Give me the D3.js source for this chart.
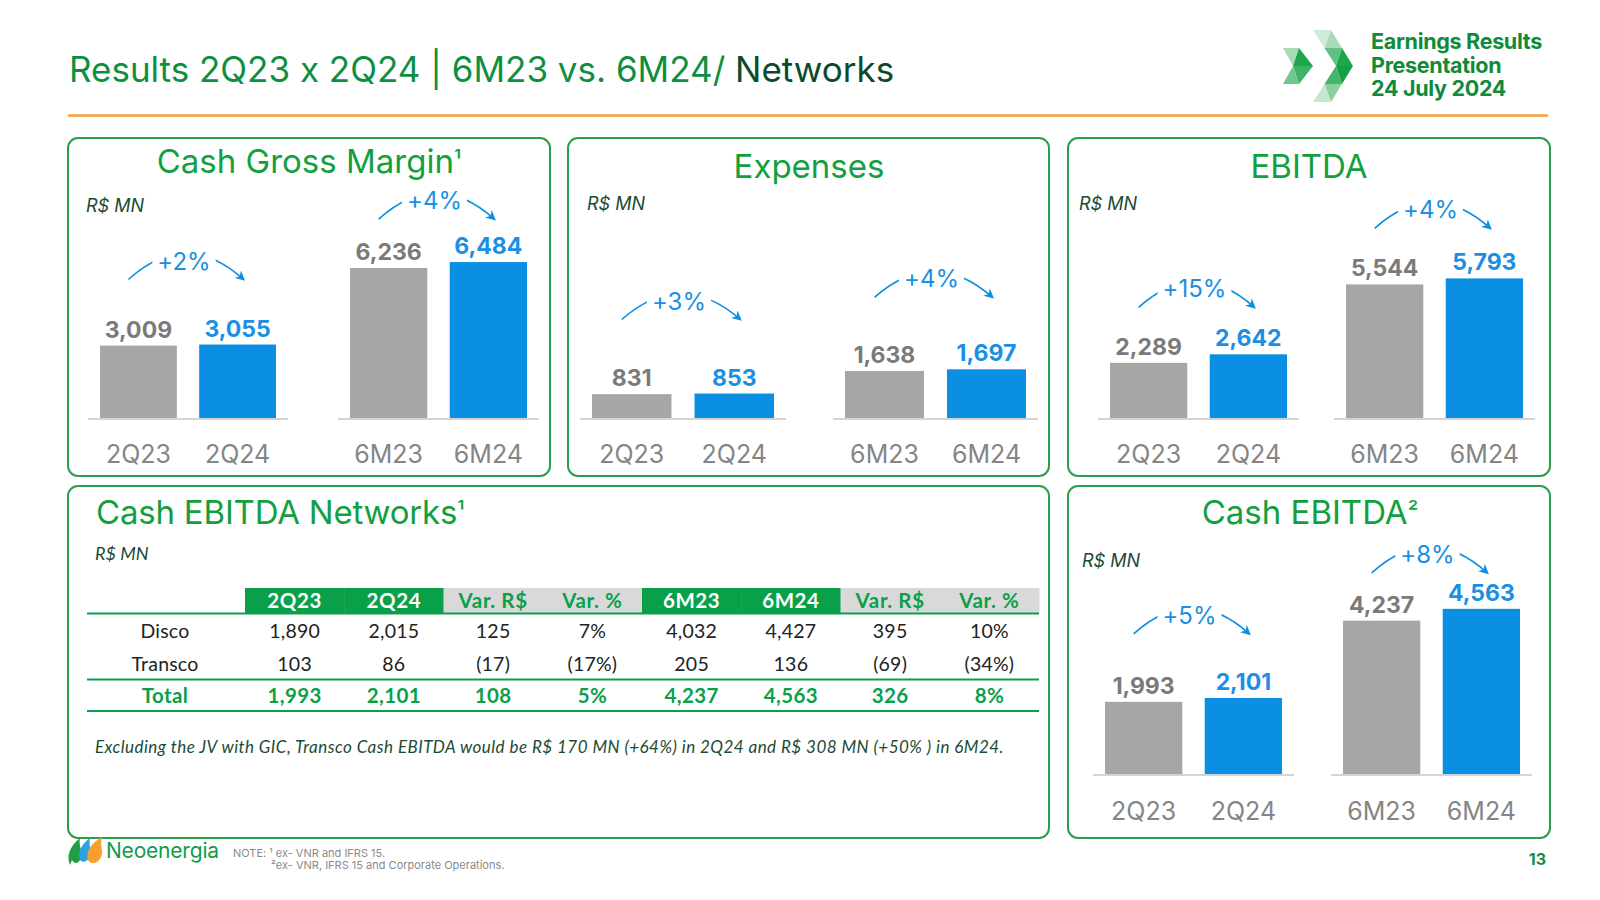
<!DOCTYPE html>
<html><head><meta charset="utf-8">
<script src="https://cdn.jsdelivr.net/npm/d3@7"></script>
<style>body{margin:0;background:#fff} svg{display:block;font-feature-settings:"calt" 0}</style>
</head><body><svg id="c" width="1600" height="900"></svg>
<script>
// ---------- DATA ----------
const periods = ["2Q23", "2Q24", "6M23", "6M24"];
const cashGrossMargin = [3009, 3055, 6236, 6484];
const expenses = [831, 853, 1638, 1697];
const ebitda = [2289, 2642, 5544, 5793];
const cashEbitda = [1993, 2101, 4237, 4563];
const cashGrossMarginGrowth = ["+2%", "+4%"];
const expensesGrowth = ["+3%", "+4%"];
const ebitdaGrowth = ["+15%", "+4%"];
const cashEbitdaGrowth = ["+5%", "+8%"];

const tableColumns = ["2Q23", "2Q24", "Var. R$", "Var. %", "6M23", "6M24", "Var. R$", "Var. %"];
const tableRowLabels = ["Disco", "Transco", "Total"];
const discoRow = ["1,890", "2,015", "125", "7%", "4,032", "4,427", "395", "10%"];
const transcoRow = ["103", "86", "(17)", "(17%)", "205", "136", "(69)", "(34%)"];
const totalRow = ["1,993", "2,101", "108", "5%", "4,237", "4,563", "326", "8%"];

// ---------- STYLE / LAYOUT ----------
const C = {
  title: "#0e8f3f", titleDark: "#0c4a2c", panelTitle: "#12a03f", border: "#2a9f4b",
  gray: "#a6a6a6", blue: "#0b8fe3", grayLbl: "#7a7a7a", blueLbl: "#1a8fe3",
  cat: "#858585", axis: "#d4d4d4", unit: "#1b4b34", orange: "#f6a13a",
  tblGreen: "#0aa04a", tblGray: "#d9d9d9", rowText: "#222"
};
const F = "Inter, 'Noto Sans', sans-serif";
const FT = "Lato, 'Noto Sans', sans-serif";

const panels = [
  { title: "Cash Gross Margin", sup: "¹", values: cashGrossMargin, growth: cashGrossMarginGrowth,
    box: [68, 138, 482, 338], titleX: 309, titleY: 173, unitX: 86, unitY: 212, base: 418,
    groups: [[100, 276], [350, 527]], pxPer: 0.02405, annOff: [65, 43], catY: 463 },
  { title: "Expenses", sup: "", values: expenses, growth: expensesGrowth,
    box: [568, 138, 481, 338], titleX: 809, titleY: 178, unitX: 587, unitY: 210, base: 418,
    groups: [[592, 774], [845, 1026]], pxPer: 0.0287, annOff: [74, 72], catY: 463 },
  { title: "EBITDA", sup: "", values: ebitda, growth: ebitdaGrowth,
    box: [1068, 138, 482, 338], titleX: 1309, titleY: 178, unitX: 1079, unitY: 210, base: 418,
    groups: [[1110, 1287], [1346, 1523]], pxPer: 0.0241, annOff: [47, 50], catY: 463 },
  { title: "Cash EBITDA", sup: "²", values: cashEbitda, growth: cashEbitdaGrowth,
    box: [1068, 486, 482, 352], titleX: 1310, titleY: 524, unitX: 1082, unitY: 567, base: 774,
    groups: [[1105, 1282], [1343, 1520]], pxPer: 0.0362, annOff: [64, 36], catY: 820 }
];

const svg = d3.select("#c");
const defs = svg.append("defs");
defs.append("marker").attr("id", "arrow").attr("viewBox", "0 0 10 10")
  .attr("refX", 8).attr("refY", 5).attr("markerWidth", 10).attr("markerHeight", 10)
  .attr("markerUnits", "userSpaceOnUse").attr("orient", "auto")
  .append("path").attr("d", "M0,0 L10,5 L0,10 L3,5 z").attr("fill", C.blue);

// ---------- HEADER ----------
const t = svg.append("text").attr("x", 69).attr("y", 82).attr("font-family", F)
  .attr("font-size", 35).attr("fill", C.title);
t.append("tspan").text("Results 2Q23 x 2Q24 | 6M23 vs. 6M24/ ");
t.append("tspan").attr("fill", C.titleDark).text("Networks");
svg.append("line").attr("x1", 68).attr("x2", 1548).attr("y1", 115.5).attr("y2", 115.5)
  .attr("stroke", C.orange).attr("stroke-width", 2.5);

// logo chevrons
const tris = [
  [[1283,48],[1299,48],[1293,66],"#a8dab6"], [[1299,48],[1313,66],[1293,66],"#1fa64c"],
  [[1293,66],[1313,66],[1299,84],"#3cb466"], [[1283,84],[1293,66],[1299,84],"#72c68f"],
  [[1313,30],[1331,30],[1324.5,48],"#cfebd6"], [[1331,30],[1342,48],[1324.5,48],"#a9dbb8"],
  [[1324.5,48],[1342,48],[1336,66],"#63c083"], [[1342,48],[1353,66],[1336,66],"#1ea64b"],
  [[1336,66],[1353,66],[1342,84],"#16a046"], [[1336,66],[1342,84],[1324.5,84],"#45b56c"],
  [[1324.5,84],[1342,84],[1331,102],"#8ccfa1"], [[1324.5,84],[1331,102],[1313,102],"#c6e7ce"]
];
svg.append("g").selectAll("path").data(tris).join("path")
  .attr("d", d => `M${d[0]}L${d[1]}L${d[2]}Z`).attr("fill", d => d[3]);
const logoT = svg.append("text").attr("font-family", F).attr("font-weight", 700)
  .attr("font-size", 21.5).attr("fill", "#108a3b").attr("letter-spacing", -0.3);
["Earnings Results", "Presentation", "24 July 2024"].forEach((s, i) =>
  logoT.append("tspan").attr("x", 1371).attr("y", 49 + i * 23.5).text(s));

// ---------- BAR PANELS ----------
function box(b) {
  svg.append("rect").attr("x", b[0]).attr("y", b[1]).attr("width", b[2]).attr("height", b[3])
    .attr("rx", 10).attr("fill", "#fff").attr("stroke", C.border).attr("stroke-width", 2);
}

panels.forEach(p => {
  box(p.box);
  const g = svg.append("g");
  const tt = g.append("text").attr("x", p.titleX).attr("y", p.titleY).attr("text-anchor", "middle")
    .attr("font-family", F).attr("font-size", 33).attr("fill", C.panelTitle).text(p.title);
  if (p.sup) tt.append("tspan").attr("font-size", 24).attr("dy", -4).text(p.sup);
  g.append("text").attr("x", p.unitX).attr("y", p.unitY).attr("font-family", F)
    .attr("font-style", "italic").attr("font-size", 18).attr("fill", C.unit).text("R$ MN");

  const y = d3.scaleLinear().domain([0, 10000]).range([p.base, p.base - 10000 * p.pxPer]);

  [0, 1].forEach(gi => {
    const cats = periods.slice(gi * 2, gi * 2 + 2);
    const vals = p.values.slice(gi * 2, gi * 2 + 2);
    const data = cats.map((c, i) => ({ c, v: vals[i], i }));
    const x = d3.scaleBand().domain(cats).range(p.groups[gi]).paddingInner(0.225).paddingOuter(0);

    g.append("line").attr("x1", p.groups[gi][0] - 12).attr("x2", p.groups[gi][1] + 12)
      .attr("y1", p.base + 1).attr("y2", p.base + 1).attr("stroke", C.axis).attr("stroke-width", 2);

    g.append("g").selectAll("rect").data(data).join("rect")
      .attr("x", d => x(d.c)).attr("width", x.bandwidth())
      .attr("y", d => y(d.v)).attr("height", d => y(0) - y(d.v))
      .attr("fill", d => d.i ? C.blue : C.gray);

    g.append("g").selectAll("text").data(data).join("text")
      .attr("x", d => x(d.c) + x.bandwidth() / 2).attr("y", d => y(d.v) - 8)
      .attr("text-anchor", "middle").attr("font-family", F).attr("font-weight", 700)
      .attr("font-size", 23).attr("fill", d => d.i ? C.blueLbl : C.grayLbl)
      .text(d => d3.format(",")(d.v));

    const ax = g.append("g").attr("transform", `translate(0,${p.base})`)
      .call(d3.axisBottom(x).tickSize(0).tickPadding(p.catY - p.base - 18));
    ax.select(".domain").remove();
    ax.selectAll("text").attr("font-family", F).attr("font-size", 25).attr("fill", C.cat);

    // growth arc
    const lc = x(cats[0]) + x.bandwidth() / 2, rc = x(cats[1]) + x.bandwidth() / 2;
    const ye = y(d3.max(vals)) - p.annOff[gi];
    const sx = lc - 10, ex = rc + 6, mid = (sx + ex) / 2;
    const path = d3.path();
    path.moveTo(sx, ye);
    path.quadraticCurveTo(mid, ye - 52, ex, ye);
    const ag = g.append("g");
    ag.append("path").attr("d", path.toString()).attr("fill", "none")
      .attr("stroke", C.blue).attr("stroke-width", 1.6).attr("marker-end", "url(#arrow)");
    const bg = ag.append("rect").attr("fill", "#fff");
    const lbl = ag.append("text").attr("x", mid - 2).attr("y", ye - 10).attr("text-anchor", "middle")
      .attr("font-family", F).attr("font-size", 24).attr("fill", C.blueLbl).text(p.growth[gi]);
    const bb = lbl.node().getBBox();
    bg.attr("x", bb.x - 5).attr("y", bb.y).attr("width", bb.width + 10).attr("height", bb.height);
  });
});

// ---------- TABLE PANEL ----------
box([68, 486, 981, 352]);
const tg = svg.append("g");
const tt2 = tg.append("text").attr("x", 96).attr("y", 524).attr("font-family", F)
  .attr("font-size", 33).attr("fill", C.panelTitle).attr("letter-spacing", -0.2).text("Cash EBITDA Networks");
tt2.append("tspan").attr("font-size", 24).attr("dy", -4).text("¹");
tg.append("text").attr("x", 95).attr("y", 560).attr("font-family", FT).attr("font-style", "italic")
  .attr("font-size", 18).attr("fill", C.unit).text("R$ MN");

const cx = d3.scaleBand().domain(d3.range(tableColumns.length)).range([245, 1039]);
const isGreen = i => i === 0 || i === 1 || i === 4 || i === 5;
tg.append("g").selectAll("rect").data(tableColumns).join("rect")
  .attr("x", (d, i) => cx(i)).attr("width", cx.bandwidth() + 0.5).attr("y", 588).attr("height", 25)
  .attr("fill", (d, i) => isGreen(i) ? C.tblGreen : C.tblGray);
tg.append("g").selectAll("text").data(tableColumns).join("text")
  .attr("x", (d, i) => cx(i) + cx.bandwidth() / 2).attr("y", 607.5).attr("text-anchor", "middle")
  .attr("font-family", FT).attr("font-weight", 700).attr("font-size", 20.5).attr("letter-spacing", 0.6)
  .attr("fill", (d, i) => isGreen(i) ? "#fff" : C.tblGreen).text(d => d);

const ry = d3.scaleBand().domain(tableRowLabels).range([613, 711]);
const rows = [discoRow, transcoRow, totalRow];
tableRowLabels.forEach((lab, ri) => {
  const total = lab === "Total";
  const yy = ry(lab) + ry.bandwidth() / 2 + 8.5;
  const cells = [lab].concat(rows[ri]);
  tg.append("g").selectAll("text").data(cells).join("text")
    .attr("x", (d, i) => i === 0 ? 165 : cx(i - 1) + cx.bandwidth() / 2).attr("y", yy)
    .attr("text-anchor", "middle").attr("font-family", FT)
    .attr("font-weight", total ? 700 : 400).attr("font-size", total ? 20.5 : 19.5)
    .attr("letter-spacing", total ? 0.4 : 0.2)
    .attr("fill", total ? C.tblGreen : C.rowText).text(d => d);
});
[613.5, 679.5, 711].forEach(yl => tg.append("line").attr("x1", 87).attr("x2", 1039)
  .attr("y1", yl).attr("y2", yl).attr("stroke", C.tblGreen).attr("stroke-width", 2));

tg.append("text").attr("x", 95).attr("y", 753).attr("font-family", FT).attr("font-style", "italic")
  .attr("font-size", 17).attr("letter-spacing", 0.45).attr("fill", C.unit)
  .text("Excluding the JV with GIC, Transco Cash EBITDA would be R$ 170 MN (+64%) in 2Q24 and R$ 308 MN (+50% ) in 6M24.");

// ---------- FOOTER ----------
const fg = svg.append("g");
fg.append("path").attr("d", "M70,865 C66,856 70,846 80,838 C78,846 84,852 80,860 C78,864 74,864 72,860 Z").attr("fill", "#1e9e45");
fg.append("path").attr("d", "M80,860 C77,852 82,844 90,838 C88,846 93,851 89,858 C87,862 82,863 80,860 Z").attr("fill", "#2aa2e3");
fg.append("path").attr("d", "M88,860 C85,851 92,843 102,837 C99,846 105,852 100,859 C97,864 90,864 88,860 Z").attr("fill", "#f5a02e");
fg.append("text").attr("x", 106).attr("y", 858).attr("font-family", F).attr("font-size", 21)
  .attr("fill", "#0f9d48").attr("letter-spacing", -0.2).text("Neoenergia");
fg.append("text").attr("x", 233).attr("y", 857).attr("font-family", F).attr("font-size", 11)
  .attr("fill", "#8a8a8a").text("NOTE: ¹ ex- VNR and IFRS 15.");
fg.append("text").attr("x", 271).attr("y", 869).attr("font-family", F).attr("font-size", 11)
  .attr("fill", "#8a8a8a").text("²ex- VNR, IFRS 15 and Corporate Operations.");
fg.append("text").attr("x", 1546).attr("y", 865).attr("text-anchor", "end").attr("font-family", F)
  .attr("font-weight", 700).attr("font-size", 16).attr("fill", "#0f8f40").text("13");
</script>
</body></html>
